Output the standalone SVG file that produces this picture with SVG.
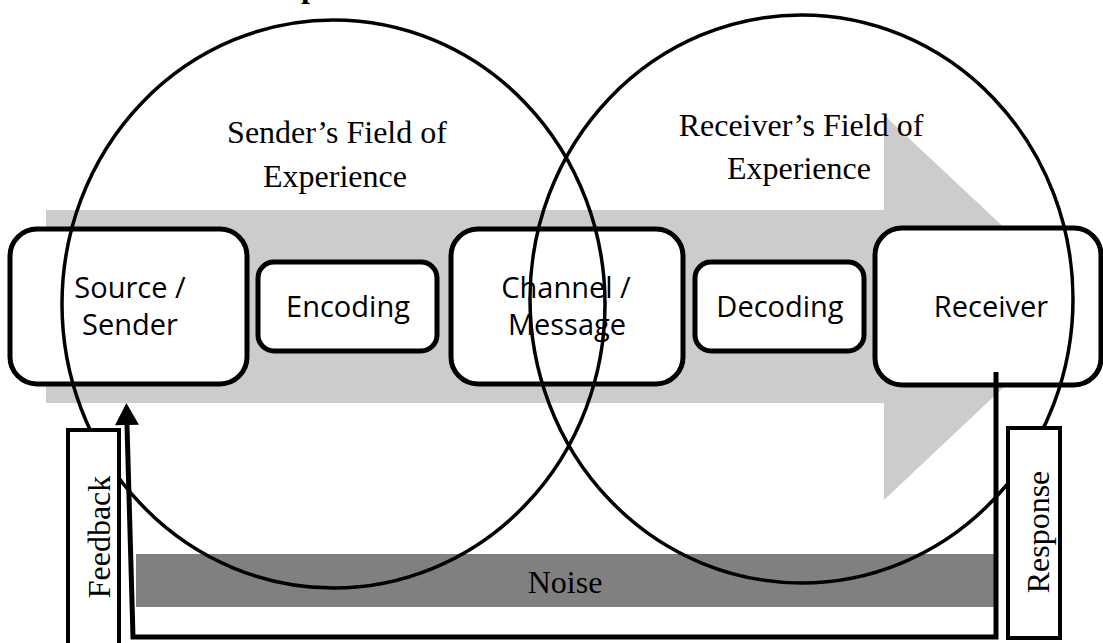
<svg xmlns="http://www.w3.org/2000/svg" width="1103" height="643" viewBox="0 0 1103 643">
<style>
.box{fill:#fff;stroke:#000;stroke-width:5}
.lbl{font-family:"Open Sans","Liberation Sans",sans-serif;font-size:29px;fill:#000;text-anchor:middle}
.ser{font-family:"Liberation Serif","Times New Roman",serif;font-size:32px;fill:#000;text-anchor:middle}
.field{fill:none;stroke:#000;stroke-width:3.5}
.side{fill:#fff;stroke:#000;stroke-width:4}
.conn{fill:none;stroke:#000;stroke-width:5;stroke-linejoin:miter}
</style>
<defs>
<marker id="ah" markerUnits="userSpaceOnUse" markerWidth="24" markerHeight="24" viewBox="0 0 22 24" refX="0" refY="12" orient="auto">
<path d="M0,0 L22,12 L0,24 z" fill="#000"/>
</marker>
</defs>
<rect width="1103" height="643" fill="#fff"/>
<text x="301" y="-3" font-family="Liberation Serif, serif" font-size="32" font-weight="bold">p</text>
<g id="flow-arrow">
<polygon points="46,210 884,210 884,115 1089,307 884,500 884,403 46,403" fill="#cccccc"/>
</g>
<g id="noise">
<rect x="136" y="554" width="858" height="53" fill="#808080"/>
<text class="ser" x="565" y="593" font-size="31">Noise</text>
</g>
<g id="source">
<rect class="box" x="10" y="229" width="237" height="155" rx="27"/>
<text class="lbl" x="130" y="298">Source /</text>
<text class="lbl" x="130" y="335">Sender</text>
</g>
<g id="encoding">
<rect class="box" x="258" y="262" width="179" height="89" rx="16"/>
<text class="lbl" x="348" y="317">Encoding</text>
</g>
<g id="channel">
<rect class="box" x="451" y="229" width="232" height="155" rx="27"/>
<text class="lbl" x="566" y="298">Channel /</text>
<text class="lbl" x="567" y="335">Message</text>
</g>
<g id="decoding">
<rect class="box" x="695" y="262" width="169" height="89" rx="16"/>
<text class="lbl" x="780" y="317">Decoding</text>
</g>
<g id="receiver">
<rect class="box" x="875" y="228" width="226" height="157" rx="27"/>
<text class="lbl" x="991" y="317">Receiver</text>
</g>
<g id="sender-field">
<ellipse class="field" cx="333.5" cy="304" rx="271.5" ry="284"/>
<text class="ser" x="337" y="143">Sender’s Field of</text>
<text class="ser" x="335" y="187">Experience</text>
</g>
<g id="receiver-field">
<ellipse class="field" cx="801.5" cy="299" rx="271.5" ry="284"/>
<text class="ser" x="801" y="136">Receiver’s Field of</text>
<text class="ser" x="799" y="179">Experience</text>
</g>
<g id="feedback">
<rect class="side" x="68" y="430" width="51" height="220"/>
<text class="ser" transform="translate(110,537) rotate(-90)" font-size="33">Feedback</text>
</g>
<g id="response">
<rect class="side" x="1008" y="428" width="52" height="210"/>
<text class="ser" transform="translate(1049,532) rotate(-90)" font-size="33">Response</text>
</g>
<g id="connectors">
<path class="conn" d="M996,372 L996,637 L133,637 L127,425" marker-end="url(#ah)"/>
</g>
</svg>
